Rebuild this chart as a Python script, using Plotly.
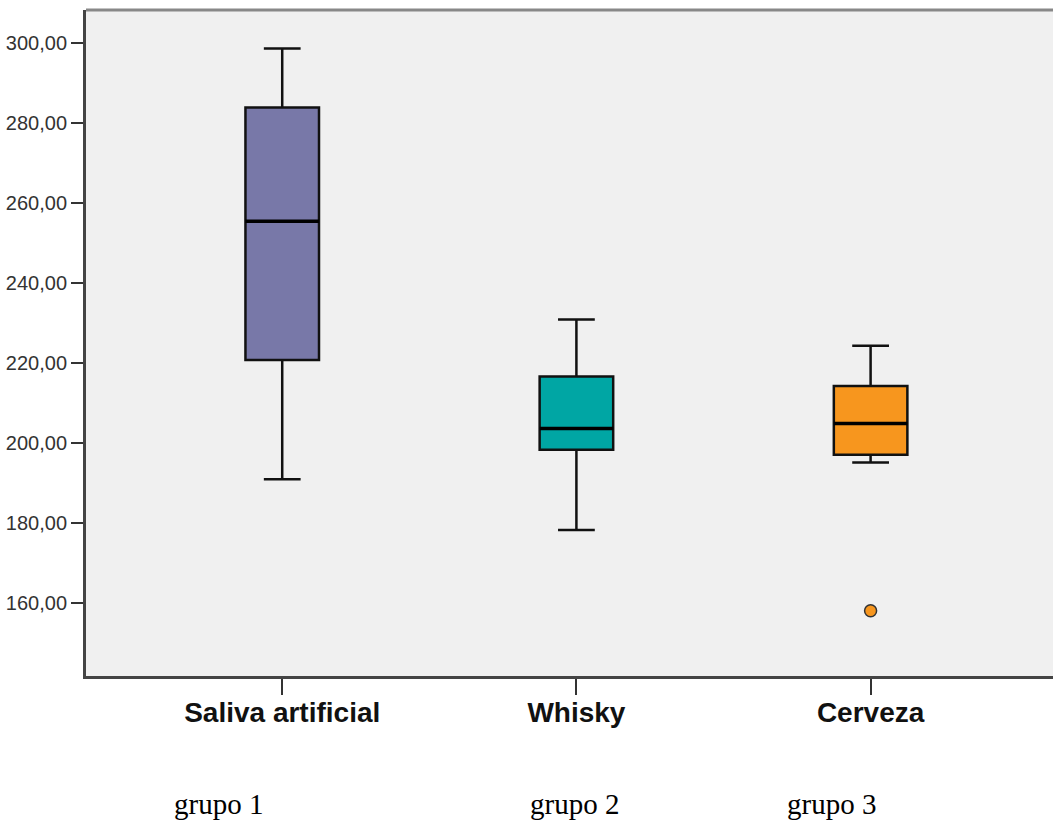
import plotly.graph_objects as go

# Group summary statistics (five-number summaries per beverage)
categories = ["Saliva artificial", "Whisky", "Cerveza"]
group_labels = ["grupo 1", "grupo 2", "grupo 3"]
lower_whisker = [190.9, 178.2, 195.1]
q1_values = [220.7, 198.25, 197.0]
medians = [255.4, 203.6, 204.85]
q3_values = [283.85, 216.6, 214.2]
upper_whisker = [298.6, 230.85, 224.25]
outlier_group = [2]
outlier_values = [158.0]

colors = ["#7878A8", "#00A6A4", "#F7961E"]
tick_vals = [160, 180, 200, 220, 240, 260, 280, 300]
tick_text = ["160,00", "180,00", "200,00", "220,00", "240,00", "260,00", "280,00", "300,00"]

BOX_WIDTH = 0.25

fig = go.Figure()

for i, name in enumerate(categories):
    fig.add_trace(go.Box(
        x=[i],
        q1=[q1_values[i]],
        median=[medians[i]],
        q3=[q3_values[i]],
        lowerfence=[lower_whisker[i]],
        upperfence=[upper_whisker[i]],
        width=BOX_WIDTH,
        whiskerwidth=0.5,
        fillcolor=colors[i],
        line=dict(color="#111111", width=2.5),
        boxpoints=False,
        showlegend=False,
        name=name,
    ))
    # thicker median bar across the box
    fig.add_trace(go.Scatter(
        x=[i - BOX_WIDTH / 2, i + BOX_WIDTH / 2],
        y=[medians[i], medians[i]],
        mode="lines",
        line=dict(color="#000000", width=3.5),
        showlegend=False,
        hoverinfo="skip",
    ))

fig.add_trace(go.Scatter(
    x=outlier_group,
    y=outlier_values,
    mode="markers",
    marker=dict(color=colors[2], size=12, line=dict(color="#333333", width=1.5)),
    showlegend=False,
))

# thin grey frame line along the top of the plotting area
fig.add_shape(type="line", xref="paper", yref="paper", x0=0, x1=1, y0=1, y1=1,
              line=dict(color="#888888", width=3))

# group captions under the category labels
group_caption_x = [0.137, 0.505, 0.771]
for i, label in enumerate(group_labels):
    fig.add_annotation(
        x=group_caption_x[i], y=-0.192, xref="paper", yref="paper",
        xanchor="center", yanchor="middle",
        text=label, showarrow=False,
        font=dict(family="Liberation Serif", size=29, color="#000000"),
    )

fig.update_layout(
    width=1053, height=822,
    margin=dict(l=86, r=0, t=10, b=146),
    paper_bgcolor="#FFFFFF",
    plot_bgcolor="#F0F0F0",
    xaxis=dict(
        range=[-0.667, 2.62],
        tickvals=[0, 1, 2],
        ticktext=categories,
        ticks="outside", ticklen=16, tickwidth=2, tickcolor="#333333",
        ticklabelstandoff=-7,
        showline=True, linecolor="#444444", linewidth=3,
        showgrid=False, zeroline=False,
        tickfont=dict(family="Liberation Sans", size=28, color="#111111", weight="bold"),
    ),
    yaxis=dict(
        range=[141.7, 308.2],
        tickvals=tick_vals,
        ticktext=tick_text,
        ticks="outside", ticklen=12, tickwidth=2, tickcolor="#333333",
        showline=True, linecolor="#444444", linewidth=3,
        showgrid=False, zeroline=False,
        tickfont=dict(family="Liberation Sans", size=20, color="#333333"),
    ),
)

fig.write_html("out.html")
